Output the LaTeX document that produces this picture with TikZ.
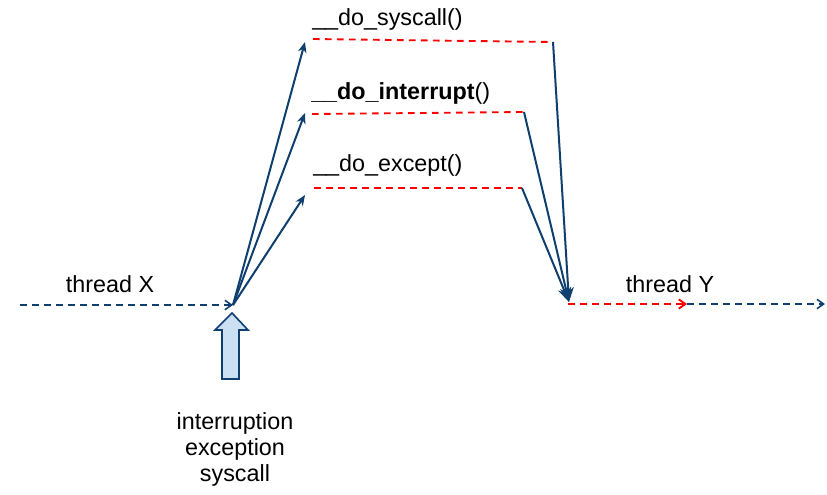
\documentclass[tikz,border=0pt]{standalone}
\usepackage{fontspec}
\setmainfont{Liberation Sans}
\usetikzlibrary{arrows.meta}
\definecolor{navy}{HTML}{0F3F6E}
\definecolor{lblue}{HTML}{CCE0F4}
\definecolor{dred}{HTML}{FF0000}
\begin{document}
\begin{tikzpicture}[x=0.75pt,y=-0.75pt,
  lbl/.style={font=\fontsize{17.5}{21}\selectfont, inner sep=0pt, anchor=base},
  flow/.style={navy, line width=1.5pt, -{Stealth[length=8pt,width=6.5pt]}},
  ret/.style={navy, line width=1.5pt, -{Stealth[length=11pt,width=8.5pt]}},
  thr/.style={navy, line width=1.2pt, dash pattern=on 5pt off 4pt, -{Straight Barb[length=5pt,width=7pt]}},
  rthr/.style={dred, line width=1.4pt, dash pattern=on 5pt off 4pt},
  fn/.style={dred, line width=1.4pt, dash pattern=on 5pt off 4pt}]
\useasboundingbox (0,0) rectangle (827,494);
% coordinates
\coordinate (xs) at (20,305);
\coordinate (j) at (233,305);
\coordinate (s1) at (313,39);
\coordinate (s2) at (553,42);
\coordinate (i1) at (312,114);
\coordinate (i2) at (524,112);
\coordinate (e1) at (314,188);
\coordinate (e2) at (522,188);
\coordinate (t) at (569,302);
\coordinate (y0) at (568,304);
\coordinate (y1) at (687,304);
\coordinate (y2) at (825,304);
% labels
\node[lbl] (lx) at (110,292) {thread X};
\node[lbl] (ly) at (670,292) {thread Y};
\node[lbl, anchor=base west] (ls) at (312,25) {\_\_do\_syscall()};
\node[lbl, anchor=base west] (li) at (311,99) {\textbf{\_\_do\_interrupt}()};
\node[lbl, anchor=base west] (le) at (313,171) {\_\_do\_except()};
\node[lbl, align=center, font=\fontsize{17.5}{19.5}\selectfont, anchor=north] (lev) at (235,412) {interruption\\exception\\syscall};
% thread X
\draw[thr] (xs) -- (j);
% calls
\draw[flow] (j) -- (305,42);
\draw[flow] (j) -- (305,113);
\draw[flow] (j) -- (305,195);
% function bodies
\draw[fn] (s1) -- (s2);
\draw[fn] (i1) -- (i2);
\draw[fn] (e1) -- (e2);
% returns
\draw[ret] (s2) -- (t);
\draw[ret] (i2) -- (t);
\draw[ret] (e2) -- (t);
% thread Y
\draw[rthr, -{Straight Barb[length=5pt,width=7pt]}] (y0) -- (y1);
\draw[thr] (y1) -- (y2);
% event block arrow
\draw[navy, fill=lblue, line width=1.2pt, line join=miter]
  (232,313) -- (248,330) -- (239,330) -- (239,379) -- (222,379) -- (222,330) -- (215,330) -- cycle;
\end{tikzpicture}
\end{document}
